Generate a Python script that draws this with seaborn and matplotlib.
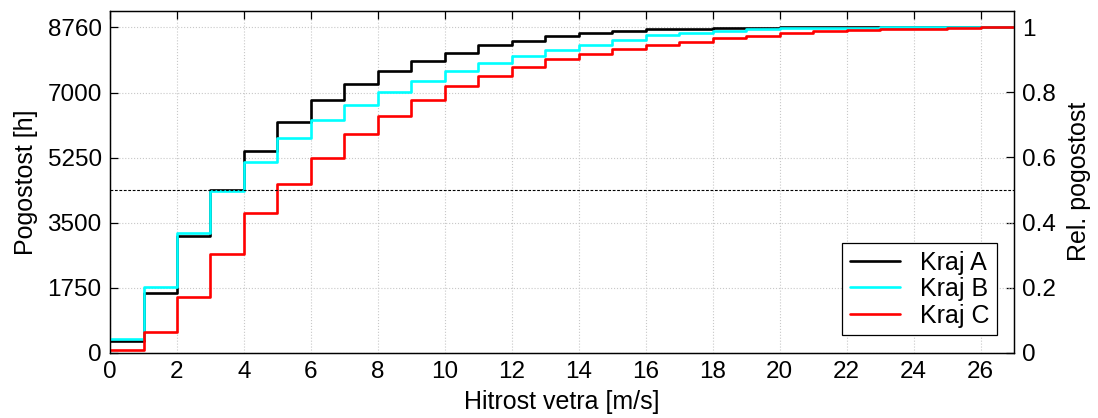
import numpy as np
import pandas as pd
import seaborn as sns
import matplotlib
matplotlib.use("Agg")
import matplotlib.pyplot as plt

sns.set_style("white")
plt.rcParams['font.family'] = ['Liberation Sans', 'DejaVu Sans']
plt.rcParams['text.color'] = 'black'
plt.rcParams['axes.labelcolor'] = 'black'

# cumulative hours per wind-speed bin [k, k+1) m/s
bins = list(range(27))
kraj_a = [320, 1610, 3150, 4390, 5440, 6200, 6790, 7240, 7590, 7845, 8060, 8285, 8400,
          8535, 8610, 8670, 8700, 8718, 8738, 8750, 8755, 8758, 8759, 8760, 8760, 8760, 8760]
kraj_b = [375, 1770, 3235, 4350, 5140, 5770, 6270, 6665, 7010, 7325, 7595, 7800, 8000,
          8160, 8295, 8420, 8545, 8610, 8670, 8716, 8735, 8745, 8752, 8756, 8758, 8760, 8760]
kraj_c = [70, 555, 1495, 2650, 3760, 4550, 5250, 5895, 6380, 6810, 7185, 7455, 7685,
          7910, 8045, 8180, 8287, 8375, 8464, 8537, 8609, 8654, 8690, 8709, 8725, 8745, 8760]
labels = ['Kraj A', 'Kraj B', 'Kraj C']
colors = ['black', 'cyan', 'red']
hours = 8760
y_ticks = [0, 1750, 3500, 5250, 7000, 8760]
rel_ticks = [0, 0.2, 0.4, 0.6, 0.8, 1]

fig = plt.figure(figsize=(10.98, 4.18), dpi=100)
ax = fig.add_axes([0.1002, 0.1562, 0.8233, 0.8175])

edges = bins + [bins[-1] + 1]
for vals, lab, col in zip([kraj_a, kraj_b, kraj_c], labels, colors):
    df = pd.DataFrame({'x': edges, 'y': vals + [vals[-1]]})
    sns.lineplot(data=df, x='x', y='y', drawstyle='steps-post', color=col,
                 label=lab, linewidth=1.9, ax=ax)

ax.axhline(hours / 2, color='black', linestyle=(0, (2.5, 1.5)), linewidth=0.8)

ax.set_xlim(0, 27)
ax.set_ylim(0, hours * 1.05)
ax.set_xticks(range(0, 27, 2))
ax.set_yticks(y_ticks)
ax.set_yticklabels([str(t) for t in y_ticks])
ax.grid(True, color='#c8c8c8', linestyle=':', linewidth=0.8)
ax.tick_params(direction='in', length=6, width=0.9, labelsize=17.5, pad=6,
               top=True, right=False, colors='black')
ax.set_xlabel('Hitrost vetra [m/s]', fontsize=18, labelpad=5)
ax.set_ylabel('Pogostost [h]', fontsize=18, labelpad=7)
for s in ax.spines.values():
    s.set_color('black')
    s.set_linewidth(0.9)

ax2 = ax.twinx()
ax2.set_ylim(0, 1.05)
ax2.set_yticks(rel_ticks)
ax2.set_yticklabels(['0', '0.2', '0.4', '0.6', '0.8', '1'])
ax2.tick_params(direction='in', length=6, width=0.9, labelsize=17.5, pad=6, colors='black')
ax2.set_ylabel('Rel. pogostost', fontsize=18, labelpad=8)
for s in ax2.spines.values():
    s.set_color('black')
    s.set_linewidth(0.9)

leg = ax.legend(loc='lower right', fontsize=18, frameon=True, fancybox=False,
                edgecolor='black', framealpha=1, handlelength=2.0,
                borderaxespad=0.7, borderpad=0.3, labelspacing=0.1, handletextpad=0.8)
leg.get_frame().set_linewidth(0.9)
ax.set_zorder(ax2.get_zorder() + 1)
ax.patch.set_visible(False)

fig.savefig('out.png', dpi=100)
